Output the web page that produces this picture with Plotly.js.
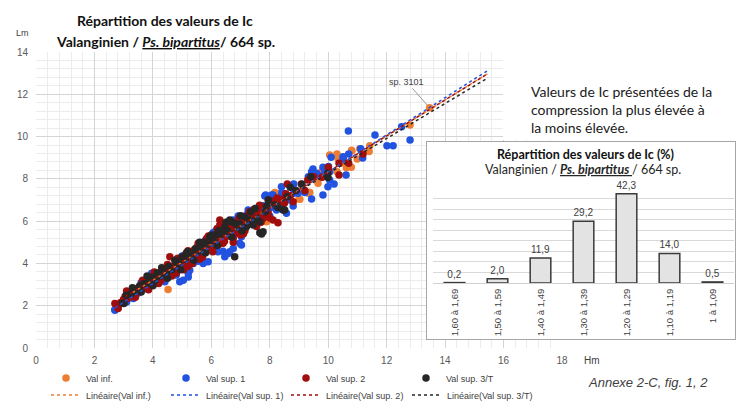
<!DOCTYPE html>
<html><head><meta charset="utf-8">
<script src="https://cdn.plot.ly/plotly-3.0.1.min.js"></script>
<style>
html,body{margin:0;padding:0;background:#fff;}
#main{position:absolute;left:0;top:0;width:736px;height:408px;}
#inset{position:absolute;left:426px;top:141px;width:310px;height:199px;box-sizing:border-box;border:1px solid #a6a6a6;background:#fff;}
#insetPlot{width:308px;height:197px;}
</style></head><body>
<div id="main"></div>
<div id="inset"><div id="insetPlot"></div></div>
<script>
// ---------- DATA ----------
const seriesNames = ['Val inf.', 'Val sup. 1', 'Val sup. 2', 'Val sup. 3/T'];
const trendNames = ['Linéaire(Val inf.)', 'Linéaire(Val sup. 1)', 'Linéaire(Val sup. 2)', 'Linéaire(Val sup. 3/T)'];

const infH = [3.30,3.67,3.90,4.10,4.30,4.52,4.60,4.85,5.05,5.25,5.45,5.60,5.80,6.00,6.20,6.40,6.60,6.85,7.00,7.20,7.40,7.55,7.55,7.89,8.17,8.21,8.30,8.45,9.00,9.03,9.32,9.34,9.37,9.65,9.77,10.05,10.30,10.30,10.34,10.42,10.60,10.62,10.79,10.80,10.81,10.99,11.08,11.40,11.42,12.80,13.47];
const infL = [2.55,3.05,3.20,3.35,3.50,2.77,3.70,3.95,4.10,4.35,4.45,4.70,4.80,5.05,5.20,5.35,5.60,5.80,5.75,6.00,6.20,5.97,6.37,5.97,7.35,7.32,7.25,7.10,7.05,7.03,7.32,7.35,7.35,7.79,8.34,9.13,9.18,8.34,8.94,8.74,8.74,8.53,8.55,9.35,9.32,8.94,9.42,9.29,9.56,10.55,11.36];

const sup1H = [2.70,2.70,2.81,3.10,3.33,3.50,3.60,3.75,3.90,3.96,4.10,4.30,4.35,4.41,4.50,4.64,4.70,4.80,4.92,5.00,5.04,5.21,5.21,5.26,5.38,5.38,5.55,5.60,5.72,5.80,5.89,6.00,6.06,6.12,6.18,6.18,6.23,6.23,6.29,6.40,6.40,6.46,6.57,6.63,6.63,6.75,6.75,6.92,6.97,7.03,7.03,7.20,7.26,7.52,7.72,7.75,7.77,7.83,7.86,8.00,8.00,8.06,8.11,8.23,8.32,8.34,8.40,8.41,8.51,8.57,8.64,8.68,8.74,8.80,8.82,8.82,8.97,9.20,9.32,9.43,9.43,9.45,9.48,9.60,9.71,9.82,9.82,9.88,9.99,10.01,10.05,10.05,10.10,10.20,10.51,10.51,10.61,10.69,10.70,11.11,11.18,11.60,12.01,12.22,12.51,12.80];
const sup1L = [1.82,1.79,1.91,2.18,2.34,2.60,3.10,2.80,2.95,3.53,3.05,3.60,3.45,3.13,3.90,3.84,3.55,3.45,3.13,4.35,3.21,3.36,3.53,3.68,4.00,4.31,4.10,4.80,4.00,5.10,4.08,4.60,5.45,5.50,5.58,5.50,5.34,4.55,5.50,5.58,4.58,4.31,4.47,4.55,5.82,6.05,4.71,6.24,4.95,5.26,4.87,6.29,6.53,6.53,6.68,6.68,6.73,7.19,7.24,6.61,6.24,7.24,7.24,6.53,7.03,6.76,7.63,7.35,7.16,6.37,7.03,7.00,7.63,6.72,7.32,7.76,7.32,7.35,8.10,8.34,7.05,8.06,8.47,8.27,8.14,8.55,7.24,8.39,7.63,8.58,8.34,7.95,9.02,7.76,8.98,9.05,8.18,10.26,9.17,9.42,8.99,10.08,9.56,9.56,10.47,9.84];

const sup2H = [2.70,2.81,2.90,3.00,3.05,3.10,3.15,3.20,3.30,3.35,3.40,3.45,3.50,3.55,3.62,3.65,3.70,3.75,3.80,3.85,3.88,3.92,4.00,4.05,4.05,4.10,4.15,4.20,4.22,4.28,4.35,4.40,4.45,4.50,4.52,4.58,4.58,4.65,4.70,4.75,4.80,4.85,4.88,4.92,5.00,5.05,5.05,5.10,5.15,5.20,5.20,5.25,5.30,5.35,5.38,5.42,5.50,5.55,5.55,5.60,5.65,5.70,5.70,5.78,5.84,5.90,5.90,5.95,6.01,6.05,6.05,6.10,6.15,6.20,6.20,6.25,6.29,6.29,6.35,6.40,6.40,6.45,6.50,6.55,6.60,6.60,6.65,6.70,6.75,6.75,6.80,6.85,6.90,6.95,6.95,7.00,7.05,7.10,7.10,7.15,7.20,7.26,7.30,7.32,7.35,7.43,7.45,7.50,7.55,7.60,7.65,7.65,7.70,7.77,7.83,7.90,7.94,7.95,8.00,8.05,8.11,8.20,8.25,8.28,8.35,8.45,8.50,8.55,8.60,8.70,8.80,9.08,9.20,9.30,9.50,9.79,10.00,10.37,10.37,10.70,11.19];
const sup2L = [2.10,1.87,2.15,2.30,2.45,2.70,2.35,2.60,2.50,2.75,2.40,2.62,2.85,2.70,3.00,3.20,2.85,3.15,2.95,2.75,3.25,3.05,3.40,3.15,3.60,3.55,3.30,3.05,3.45,3.20,3.70,3.50,3.35,3.95,3.80,3.60,4.31,3.40,3.75,3.95,3.55,4.25,4.10,3.85,4.25,4.00,3.70,4.40,4.15,3.85,4.60,4.45,4.25,4.00,4.60,4.35,4.75,4.50,4.95,4.20,4.85,4.60,4.30,4.95,5.18,4.75,5.30,5.05,5.18,4.85,4.55,5.30,5.05,5.45,5.65,4.90,5.82,6.05,5.25,5.60,4.95,5.05,5.45,5.75,5.30,5.85,5.95,5.55,5.20,5.00,5.80,5.45,6.00,5.65,6.15,5.35,6.10,5.80,5.40,5.55,6.15,6.29,6.45,6.37,5.90,6.13,6.55,6.40,5.75,6.53,6.20,6.75,5.95,6.13,6.37,6.60,6.37,7.00,6.15,6.95,6.05,6.80,7.10,5.92,6.95,7.03,6.85,7.30,7.76,7.20,6.92,7.76,7.45,7.95,8.10,8.08,8.55,8.18,8.74,8.74,9.17];

const sup3H = [2.96,3.01,3.09,3.25,3.30,3.40,3.55,3.60,3.70,3.80,3.85,3.95,4.00,4.07,4.15,4.25,4.30,4.35,4.45,4.50,4.55,4.65,4.75,4.80,4.90,4.95,5.00,5.10,5.15,5.20,5.30,5.40,5.45,5.55,5.60,5.65,5.75,5.80,5.85,5.95,6.00,6.05,6.15,6.20,6.25,6.35,6.45,6.50,6.55,6.63,6.69,6.70,6.80,6.80,6.90,6.97,7.00,7.05,7.15,7.20,7.30,7.35,7.43,7.50,7.55,7.66,7.66,7.72,7.77,7.85,7.89,7.95,8.17,8.23,8.28,8.45,8.51,8.60,8.70,8.90,9.10,9.40,9.99,9.99];
const sup3L = [2.13,2.10,2.50,2.55,2.85,2.70,2.95,2.65,3.05,3.40,3.10,3.35,2.95,3.21,3.55,3.40,3.80,3.60,3.55,3.30,3.85,3.70,4.15,4.05,3.95,3.70,4.30,4.20,4.50,4.55,4.40,4.15,4.70,4.55,5.00,4.75,5.00,4.50,4.90,5.25,5.35,5.10,5.35,4.85,5.55,5.40,5.70,5.95,5.55,6.05,5.97,5.25,5.90,4.31,5.70,5.86,6.25,5.55,6.20,5.73,6.05,6.45,5.82,6.60,6.10,5.97,5.45,5.39,5.50,6.45,6.72,7.00,6.76,6.72,6.65,6.53,6.53,7.15,7.60,7.45,7.75,8.10,8.06,8.27];

const forecastHm = 2.0;            // trendline forward forecast (Hm units)
const highlightLabel = 'sp. 3101';

const icClasses = ['1,60 à 1,69','1,50 à 1,59','1,40 à 1,49','1,30 à 1,39','1,20 à 1,29','1,10 à 1,19','1 à 1,09'];
const icPercent = [0.2, 2.0, 11.9, 29.2, 42.3, 14.0, 0.5];

const xTicks = [0,2,4,6,8,10,12,14,16,18];
const yTicks = [0,2,4,6,8,10,12,14];

// ---------- STYLE ----------
const colors = ['#ed7d31', '#2152e0', '#a00d0d', '#262626'];
const TF = 'Lato, "Open Sans", sans-serif';
const NF = '"Liberation Sans Narrow", "Liberation Sans", Arial, sans-serif';

const series = [[infH, infL], [sup1H, sup1L], [sup2H, sup2L], [sup3H, sup3L]];

function fit(xs, ys) {
  const n = xs.length;
  let sx = 0, sy = 0, sxx = 0, sxy = 0;
  for (let i = 0; i < n; i++) { sx += xs[i]; sy += ys[i]; sxx += xs[i]*xs[i]; sxy += xs[i]*ys[i]; }
  const m = (n*sxy - sx*sy) / (n*sxx - sx*sx);
  return { m: m, b: (sy - m*sx) / n };
}
const allMax = Math.max(...infH, ...sup1H, ...sup2H, ...sup3H);
const endH = allMax + forecastHm;

const traces = [];
series.forEach((s, i) => {
  traces.push({
    type: 'scatter', mode: 'markers', x: s[0], y: s[1], name: seriesNames[i],
    marker: { color: colors[i], size: 7.5, line: { width: 0 } },
    legend: 'legend', hoverinfo: 'x+y'
  });
});
series.forEach((s, i) => {
  const f = fit(s[0], s[1]);
  const x0 = Math.min(...s[0]);
  traces.push({
    type: 'scatter', mode: 'lines', x: [x0, endH], y: [f.m*x0 + f.b, f.m*endH + f.b],
    name: trendNames[i], line: { color: colors[i], width: 1.5, dash: 'dot' },
    legend: i < 3 ? 'legend2' : 'legend3', hoverinfo: 'skip'
  });
});

// highlighted specimen: the largest Val inf. point
const hi = infH.indexOf(Math.max(...infH));

const L = 36, R = 174, T = 52, B = 60, W = 736, H = 408;
const pw = W - L - R, ph = H - T - B;
const px = v => (v - L) / pw;
const py = v => (H - B - v) / ph;

const legendCommon = {
  orientation: 'h', xanchor: 'left', yanchor: 'middle',
  entrywidth: 75, entrywidthmode: 'pixels', itemwidth: 30,
  font: { family: NF, size: 9, color: '#404040' }, bgcolor: 'rgba(0,0,0,0)', traceorder: 'normal'
};

const layout = {
  width: W, height: H,
  margin: { l: L, r: R, t: T, b: B, pad: 0, autoexpand: false },
  paper_bgcolor: '#fff', plot_bgcolor: '#fff',
  showlegend: true,
  xaxis: {
    range: [0, 18], tickvals: xTicks, ticktext: xTicks.map(String),
    showgrid: true, gridcolor: '#d4d4d4', gridwidth: 1,
    minor: { dtick: 0.4, tick0: 0, showgrid: true, gridcolor: '#ececec', gridwidth: 1 },
    zeroline: false, showline: false, ticks: '', ticklabelstandoff: 5, automargin: false,
    tickfont: { family: NF, size: 10, color: '#595959' }, fixedrange: true
  },
  yaxis: {
    range: [0, 14], tickvals: yTicks, ticktext: yTicks.map(String),
    showgrid: true, gridcolor: '#d4d4d4', gridwidth: 1,
    minor: { dtick: 0.4, tick0: 0, showgrid: true, gridcolor: '#ececec', gridwidth: 1 },
    zeroline: false, showline: false, ticks: '', ticklabelstandoff: 7, automargin: false,
    tickfont: { family: NF, size: 10, color: '#595959' }, fixedrange: true
  },
  legend: Object.assign({}, legendCommon, { x: px(46), y: py(378) }),
  legend2: Object.assign({}, legendCommon, { x: px(46), y: py(395) }),
  legend3: Object.assign({}, legendCommon, { x: px(407), y: py(395), entrywidth: 95 }),
  shapes: [
    { type: 'rect', xref: 'paper', yref: 'paper', x0: px(503), x1: px(740), y0: py(140), y1: py(40),
      fillcolor: '#ffffff', line: { width: 0 }, layer: 'above' }
  ],
  annotations: [
    { xref: 'paper', yref: 'paper', x: px(165), y: py(21), text: '<b>Répartition des valeurs de Ic</b>',
      showarrow: false, font: { family: TF, size: 14, color: '#111' }, xanchor: 'center', yanchor: 'middle' },
    { xref: 'paper', yref: 'paper', x: px(165), y: py(41), text: '<b>Valanginien / <i><u>Ps. bipartitus</u></i>/ 664 sp.</b>',
      showarrow: false, font: { family: TF, size: 14, color: '#111' }, xanchor: 'center', yanchor: 'middle' },
    { xref: 'paper', yref: 'paper', x: px(22), y: py(33), text: 'Lm',
      showarrow: false, font: { family: NF, size: 9, color: '#404040' }, xanchor: 'center', yanchor: 'middle' },
    { xref: 'paper', yref: 'paper', x: px(592), y: py(360), text: 'Hm',
      showarrow: false, font: { family: NF, size: 10, color: '#404040' }, xanchor: 'center', yanchor: 'middle' },
    { xref: 'x', yref: 'y', x: infH[hi], y: infL[hi], text: highlightLabel, showarrow: true,
      arrowhead: 0, arrowwidth: 0.8, arrowcolor: '#7f7f7f', ax: -23, ay: -26, standoff: 3,
      font: { family: NF, size: 9, color: '#404040' } },
    { xref: 'paper', yref: 'paper', x: px(529), y: py(109), xanchor: 'left', yanchor: 'middle', align: 'left',
      text: 'Valeurs de Ic présentées de la<br>compression la plus élevée à<br>la moins élevée.',
      showarrow: false, font: { family: TF, size: 14, color: '#1a1a1a' } },
    { xref: 'paper', yref: 'paper', x: px(648), y: py(382), xanchor: 'center', yanchor: 'middle',
      text: '<i>Annexe 2-C, fig. 1, 2</i>', showarrow: false, font: { family: NF, size: 13, color: '#404040' } }
  ]
};

Plotly.newPlot('main', traces, layout, { staticPlot: true, displayModeBar: false });

// ---------- INSET BAR CHART ----------
const IW = 308, IH = 197, IL = 6, IR = 1, IT = 46, IB = 56;
const ipw = IW - IL - IR, iph = IH - IT - IB;
const ipx = v => (v - IL) / ipw;
const ipy = v => (IH - IB - v) / iph;

const barTrace = {
  type: 'bar', x: icClasses, y: icPercent,
  text: icPercent.map(v => v.toFixed(1).replace('.', ',')),
  textposition: 'outside', cliponaxis: false,
  textfont: { family: NF, size: 10, color: '#404040' },
  marker: { color: '#e3e3e3', line: { color: '#3a3a3a', width: 1.5 } },
  width: 0.48, hoverinfo: 'skip', showlegend: false
};
const insetLayout = {
  width: IW, height: IH,
  margin: { l: IL, r: IR, t: IT, b: IB, pad: 0, autoexpand: false },
  paper_bgcolor: '#fff', plot_bgcolor: '#fff',
  xaxis: { type: 'category', tickangle: -90, showgrid: false, showline: true, linecolor: '#d0d0d0', linewidth: 1,
    ticks: '', tickfont: { family: NF, size: 9.5, color: '#404040' }, fixedrange: true, ticklabelstandoff: 1, automargin: false },
  yaxis: { range: [0, 45], dtick: 5, showgrid: true, gridcolor: '#d9d9d9', gridwidth: 1, zeroline: false,
    showticklabels: false, ticks: '', fixedrange: true, automargin: false },
  bargap: 0.52,
  annotations: [
    { xref: 'paper', yref: 'paper', x: ipx(158), y: ipy(12), text: '<b>Répartition des valeurs de Ic (%)</b>',
      showarrow: false, font: { family: TF, size: 12.5, color: '#111' }, xanchor: 'center', yanchor: 'middle' },
    { xref: 'paper', yref: 'paper', x: ipx(156), y: ipy(27), text: 'Valanginien / <b><i><u>Ps. bipartitus </u></i></b>/ 664 sp.',
      showarrow: false, font: { family: TF, size: 12.5, color: '#262626' }, xanchor: 'center', yanchor: 'middle' }
  ]
};
Plotly.newPlot('insetPlot', [barTrace], insetLayout, { staticPlot: true, displayModeBar: false });
</script>
</body></html>
